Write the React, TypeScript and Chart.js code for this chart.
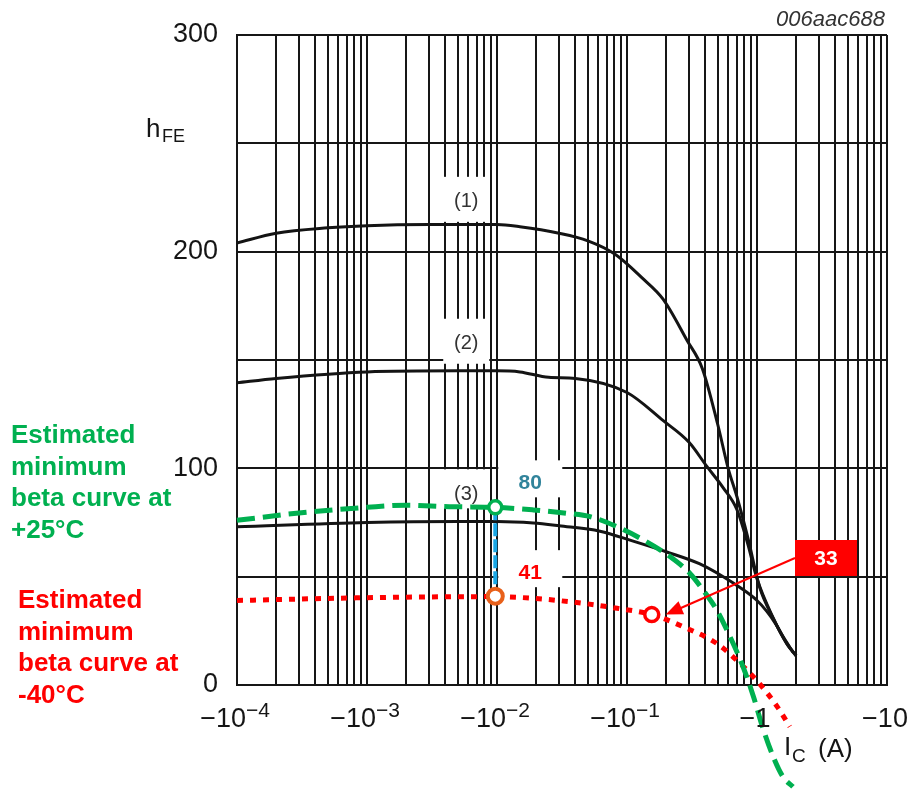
import React, { useEffect, useRef } from 'react';
import { Chart, registerables } from 'chart.js';

Chart.register(...registerables);

// ---- Data (Ic in A, magnitude; hFE) ----
const curve1Ic = [1e-4, 2e-4, 5e-4, 1e-3, 3e-3, 1e-2, 1.5e-2, 3e-2, 5e-2, 8e-2, 0.13, 0.19, 0.29, 0.38, 0.5, 0.6, 0.7, 0.85, 1.05, 1.33, 1.7, 2.0];
const curve1Hfe = [204, 208.5, 211, 212, 212.5, 212.5, 211.5, 208.5, 205, 199, 188, 178, 159, 146, 120, 100, 87, 68, 45, 31, 19, 13.5];

const curve2Ic = [1e-4, 2e-4, 1e-3, 5e-3, 1e-2, 1.5e-2, 2.5e-2, 4e-2, 0.1, 0.19, 0.3, 0.41, 0.55, 0.7, 0.85, 1.0, 1.33, 1.7, 2.0];
const curve2Hfe = [139.5, 141.5, 144.5, 145, 145, 144.5, 142, 141.5, 135, 122, 112, 101, 91, 81, 65, 49, 31, 19, 13.5];

const curve3Ic = [1e-4, 1e-3, 5e-3, 1e-2, 1.9e-2, 3e-2, 6.2e-2, 0.11, 0.2, 0.36, 0.55, 0.74, 1.0, 1.19, 1.4, 1.6, 1.9];
const curve3Hfe = [73, 75, 75.5, 75.5, 74.8, 73.5, 71, 66.5, 61.5, 56, 50, 45, 39, 34, 28, 22, 15];

const min25Ic = [1e-4, 3e-4, 1e-3, 2e-3, 4.3e-3, 0.0097, 0.019, 0.035, 0.052, 0.084, 0.133, 0.215, 0.305, 0.385, 0.49, 0.62, 0.78, 0.94, 1.1, 1.33, 1.58, 1.89];
const min25Hfe = [76, 79.4, 82, 83, 82.3, 82, 80.8, 79.2, 77.7, 73, 67, 59.2, 51.5, 43.8, 34.6, 22.3, 8.5, -5.4, -19.2, -33, -42.3, -47];

const min40Ic = [1e-4, 1e-3, 0.0097, 0.019, 0.046, 0.084, 0.155, 0.27, 0.49, 0.74, 1.04, 1.43, 1.79];
const min40Hfe = [39, 40.3, 40.8, 40, 37.7, 35.4, 32.5, 26.9, 19.2, 10, 0.8, -10, -19.2];

const markerIc = 0.0097;
const marker25Hfe = 82;
const marker40Hfe = 41;
const marker33Ic = 0.155;
const marker33Hfe = 32.5;
const valueLabels = ['80', '41', '33'];

// ---- Axis / tick labels ----
const xDecades = [1e-4, 1e-3, 1e-2, 1e-1, 1, 10];
const xMultipliers = [1, 2, 3, 4, 5, 6, 7, 8, 9];
const xTickBase = ['\u221210', '\u221210', '\u221210', '\u221210', '\u22121', '\u221210'];
const xTickExp = ['\u22124', '\u22123', '\u22122', '\u22121', '', ''];
const yLabelValues = [0, 100, 200, 300];

const curveLabels = ['(1)', '(2)', '(3)'];
const curveLabelIc = [5.8e-3, 5.8e-3, 5.8e-3];
const curveLabelHfe = [223, 157.5, 88];

const greenText = ['Estimated', 'minimum', 'beta curve at', '+25\u00b0C'];
const redText = ['Estimated', 'minimum', 'beta curve at', '-40\u00b0C'];
const figureId = '006aac688';

const FONT = '"Liberation Sans", Arial, Helvetica, sans-serif';
const GREEN = '#00B050';
const RED = '#FF0000';
const INK = '#151515';

const xGridValues: number[] = [];
xDecades.forEach((d, i) => {
  if (i === xDecades.length - 1) { xGridValues.push(d); return; }
  xMultipliers.forEach((m) => xGridValues.push(+(d * m).toPrecision(3)));
});

const pts = (xs: number[], ys: number[]) => xs.map((x, i) => ({ x, y: ys[i] }));

const overlay = {
  id: 'overlay',
  beforeDatasetsDraw(chart: any) {
    const { ctx } = chart;
    const xs = chart.scales.x;
    const ys = chart.scales.y;
    ctx.save();
    curveLabels.forEach((t, i) => {
      const cx = xs.getPixelForValue(curveLabelIc[i]);
      const cy = ys.getPixelForValue(curveLabelHfe[i]);
      ctx.fillStyle = '#ffffff';
      ctx.fillRect(cx - 23, cy - 25, 46, i === 2 ? 39 : 45);
      ctx.fillStyle = '#333';
      ctx.font = `20px ${FONT}`;
      ctx.textAlign = 'center';
      ctx.textBaseline = 'middle';
      ctx.fillText(t, cx, cy);
    });
    const mx = xs.getPixelForValue(markerIc);
    const my25 = ys.getPixelForValue(marker25Hfe);
    const my40 = ys.getPixelForValue(marker40Hfe);
    ctx.fillStyle = '#ffffff';
    ctx.fillRect(mx + 3, my25 - 47, 64, 37);
    ctx.fillRect(mx + 3, my40 - 46, 64, 37);
    ctx.font = `bold 21px ${FONT}`;
    ctx.textAlign = 'center';
    ctx.textBaseline = 'middle';
    ctx.fillStyle = '#31849B';
    ctx.fillText(valueLabels[0], mx + 35, my25 - 24);
    ctx.fillStyle = RED;
    ctx.fillText(valueLabels[1], mx + 35, my40 - 23);
    ctx.restore();
  },
  afterDatasetsDraw(chart: any) {
    const { ctx } = chart;
    const xs = chart.scales.x;
    const ys = chart.scales.y;
    ctx.save();
    ctx.fillStyle = INK;
    ctx.textBaseline = 'alphabetic';
    ctx.textAlign = 'left';
    xDecades.forEach((d, i) => {
      const px = xs.getPixelForValue(d);
      ctx.font = `27px ${FONT}`;
      const wb = ctx.measureText(xTickBase[i]).width;
      ctx.font = `21px ${FONT}`;
      const we = xTickExp[i] ? ctx.measureText(xTickExp[i]).width : 0;
      const start = px - (wb + we) / 2 - 2;
      ctx.font = `27px ${FONT}`;
      ctx.fillText(xTickBase[i], start, ys.bottom + 42);
      if (xTickExp[i]) {
        ctx.font = `21px ${FONT}`;
        ctx.fillText(xTickExp[i], start + wb, ys.bottom + 32);
      }
    });
    ctx.font = `26px ${FONT}`;
    ctx.fillText('h', 146, 137);
    ctx.font = `18px ${FONT}`;
    ctx.fillText('FE', 162, 142);
    ctx.font = `26px ${FONT}`;
    ctx.fillText('I', 784, 755);
    ctx.font = `19px ${FONT}`;
    ctx.fillText('C', 792, 762);
    ctx.font = `26px ${FONT}`;
    ctx.fillText('(A)', 818, 757);
    ctx.font = `italic 22px ${FONT}`;
    ctx.fillStyle = '#333';
    ctx.textAlign = 'right';
    ctx.fillText(figureId, 885, 26);
    ctx.textAlign = 'left';
    ctx.font = `bold 26px ${FONT}`;
    ctx.fillStyle = GREEN;
    greenText.forEach((t, i) => ctx.fillText(t, 11, 443 + i * 31.7));
    ctx.fillStyle = RED;
    redText.forEach((t, i) => ctx.fillText(t, 18, 608 + i * 31.7));
    const cx = xs.getPixelForValue(marker33Ic);
    const cy = ys.getPixelForValue(marker33Hfe);
    const bx = 795, by = 540, bw = 62, bh = 36;
    ctx.fillStyle = RED;
    ctx.fillRect(bx, by, bw, bh);
    ctx.fillStyle = '#fff';
    ctx.font = `bold 21px ${FONT}`;
    ctx.textAlign = 'center';
    ctx.textBaseline = 'middle';
    ctx.fillText(valueLabels[2], bx + bw / 2, by + bh / 2 + 1);
    const tipX = cx + 14, tipY = cy;
    const sx = bx, sy = by + bh / 2;
    const ang = Math.atan2(sy - tipY, sx - tipX);
    ctx.strokeStyle = RED;
    ctx.lineWidth = 2;
    ctx.beginPath();
    ctx.moveTo(sx, sy);
    ctx.lineTo(tipX + 14 * Math.cos(ang), tipY + 14 * Math.sin(ang));
    ctx.stroke();
    ctx.beginPath();
    ctx.moveTo(tipX, tipY);
    ctx.lineTo(tipX + 17 * Math.cos(ang) - 7 * Math.sin(ang), tipY + 17 * Math.sin(ang) + 7 * Math.cos(ang));
    ctx.lineTo(tipX + 17 * Math.cos(ang) + 7 * Math.sin(ang), tipY + 17 * Math.sin(ang) - 7 * Math.cos(ang));
    ctx.closePath();
    ctx.fillStyle = RED;
    ctx.fill();
    ctx.restore();
  },
};

export default function App() {
  const ref = useRef<HTMLCanvasElement | null>(null);
  useEffect(() => {
    if (!ref.current) return;
    const black = { borderColor: '#141414', borderWidth: 3, pointRadius: 0, cubicInterpolationMode: 'monotone', fill: false };
    const chart = new Chart(ref.current, {
      type: 'line',
      data: {
        datasets: [
          { label: 'marker 25C', data: pts([markerIc], [marker25Hfe]), showLine: false, pointRadius: 6.5, pointBorderWidth: 3.5, pointBackgroundColor: '#fff', pointBorderColor: GREEN, clip: false } as any,
          { label: 'marker -40C', data: pts([markerIc], [marker40Hfe]), showLine: false, pointRadius: 7.5, pointBorderWidth: 4, pointBackgroundColor: '#fff', pointBorderColor: '#E8601A', clip: false } as any,
          { label: 'marker 33', data: pts([marker33Ic], [marker33Hfe]), showLine: false, pointRadius: 7, pointBorderWidth: 3.5, pointBackgroundColor: '#fff', pointBorderColor: RED, clip: false } as any,
          { label: 'drop', data: pts([markerIc, markerIc], [marker25Hfe, marker40Hfe]), borderColor: '#19A7E6', borderWidth: 4, borderDash: [13, 3], pointRadius: 0 } as any,
          { label: 'min +25C', data: pts(min25Ic, min25Hfe), borderColor: GREEN, borderWidth: 5, borderDash: [18, 8], pointRadius: 0, cubicInterpolationMode: 'monotone', clip: false } as any,
          { label: 'min -40C', data: pts(min40Ic, min40Hfe), borderColor: RED, borderWidth: 5, borderDash: [6, 7], pointRadius: 0, cubicInterpolationMode: 'monotone', clip: false } as any,
          { label: '(1)', data: pts(curve1Ic, curve1Hfe), ...black } as any,
          { label: '(2)', data: pts(curve2Ic, curve2Hfe), ...black } as any,
          { label: '(3)', data: pts(curve3Ic, curve3Hfe), ...black } as any,
        ],
      },
      options: {
        animation: false,
        responsive: false,
        layout: { padding: { top: 35, right: 22, left: 0, bottom: 0 } },
        plugins: { legend: { display: false }, tooltip: { enabled: false } },
        scales: {
          x: {
            type: 'logarithmic',
            min: 1e-4,
            max: 10,
            afterBuildTicks: (s: any) => { s.ticks = xGridValues.map((v) => ({ value: v })); },
            afterFit: (s: any) => { s.height = 106; s.paddingLeft = 0; s.paddingRight = 0; },
            ticks: { display: false },
            grid: { color: '#161616', lineWidth: 2, drawTicks: false },
            border: { color: '#161616', width: 2 },
          },
          y: {
            type: 'linear',
            min: 0,
            max: 300,
            afterFit: (s: any) => { s.width = 237; s.paddingTop = 0; s.paddingBottom = 0; },
            ticks: {
              stepSize: 50,
              padding: 19,
              color: INK,
              font: { family: FONT, size: 27 },
              callback: (v: any) => (yLabelValues.includes(Number(v)) ? String(v) : ''),
            },
            grid: { color: '#161616', lineWidth: 2, drawTicks: false },
            border: { color: '#161616', width: 2 },
          },
        },
      } as any,
      plugins: [overlay],
    });
    return () => chart.destroy();
  }, []);
  return (
    <div style={{ position: 'fixed', left: 0, top: 0, width: 909, height: 791, background: '#fff' }}>
      <canvas ref={ref} width={909} height={791} style={{ display: 'block' }} />
    </div>
  );
}
